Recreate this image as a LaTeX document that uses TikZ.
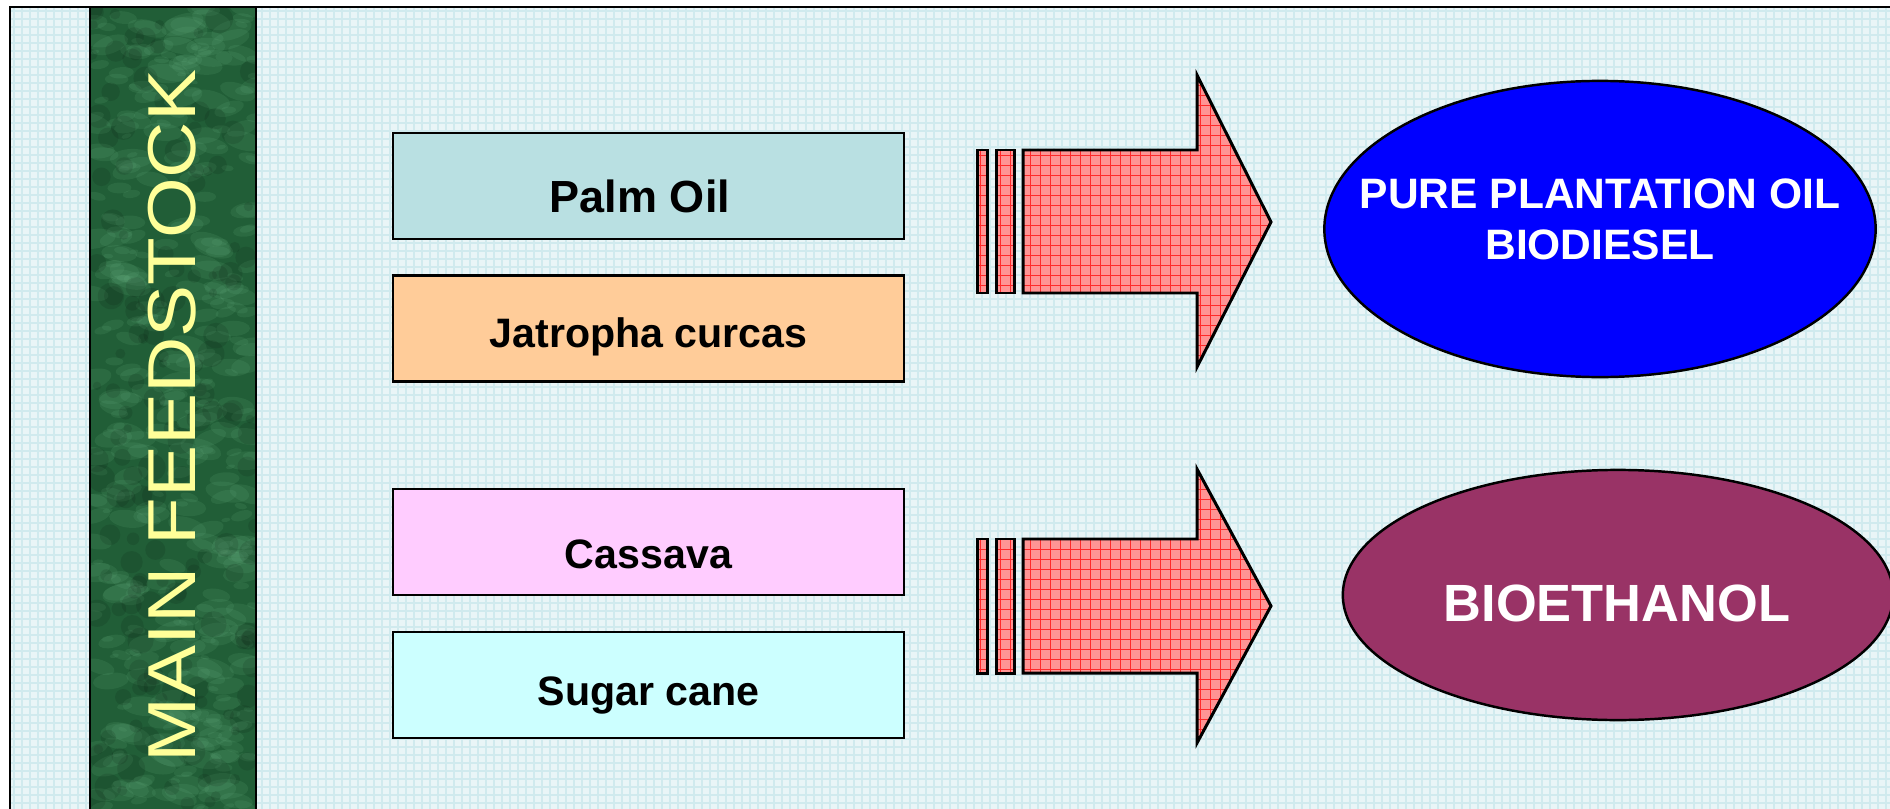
\documentclass[tikz,border=0pt]{standalone}
\usepackage{fontspec}
\setmainfont{Liberation Sans}
\usetikzlibrary{shapes.geometric}
\definecolor{bgcyan}{HTML}{E9F5F7}
\definecolor{gridcyan}{HTML}{D0EAEE}
\definecolor{marble}{HTML}{215E37}
\definecolor{marblelight}{HTML}{6AB383}
\definecolor{palm}{HTML}{B9E0E2}
\definecolor{jatropha}{HTML}{FFCC99}
\definecolor{cassava}{HTML}{FFCCFF}
\definecolor{sugar}{HTML}{CCFFFF}
\definecolor{arrowfill}{HTML}{FF9494}
\definecolor{arrowgrid}{HTML}{FF2A2A}
\definecolor{plum}{HTML}{993366}
\definecolor{paleyellow}{HTML}{FFFF99}
\newcommand{\feedarrow}[5]{%
  \begin{scope}
    \clip (977,#1) rectangle (987,#2) (996,#1) rectangle (1014,#2)
          (1023,#1) -- (1197,#1) -- (1197,#3) -- (1271,#4) -- (1197,#5) -- (1197,#2) -- (1023,#2) -- cycle;
    \fill[arrowfill] (970,#3) rectangle (1280,#5);
    \foreach \gx in {980,990,...,1270} \draw[gridred] (\gx,#3) -- (\gx,#5);
    \foreach \gy in {0,10,...,300} \draw[gridred] (970,{#3+\gy}) -- (1280,{#3+\gy});
  \end{scope}
  \draw[arrowline] (977,#1) rectangle (987,#2);
  \draw[arrowline] (996,#1) rectangle (1014,#2);
  \draw[arrowline] (1023,#1) -- (1197,#1) -- (1197,#3) -- (1271,#4) -- (1197,#5) -- (1197,#2) -- (1023,#2) -- cycle;
}
\begin{document}
\begin{tikzpicture}[x=0.01cm,y=-0.01cm,
  feedbox/.style={draw=black, line width=0.6pt, minimum width=5.11cm, minimum height=1.06cm, inner sep=0pt},
  boxtext/.style={anchor=base, inner sep=0pt, font=\fontsize{11.7pt}{14pt}\selectfont\bfseries},
  gridred/.style={draw=arrowgrid, line width=0.28pt},
  arrowline/.style={draw=black, line width=0.85pt, line join=miter},
  product/.style={ellipse, draw=black, line width=0.7pt, inner sep=0pt},
  prodtext/.style={text=white, inner sep=0pt, align=center}]
\useasboundingbox (0,0) rectangle (1890,809);
\clip (0,0) rectangle (1890,809);
\fill[white] (0,0) rectangle (1890,809);
% background
\fill[bgcyan] (10,7) rectangle (1890,809);
\foreach \gx in {14,22,...,1886} \draw[gridcyan, line width=0.3pt] (\gx,7) -- (\gx,809);
\foreach \gy in {11,19,...,805} \draw[gridcyan, line width=0.3pt] (10,\gy) -- (1890,\gy);
\draw[black, line width=0.85pt] (10,809) -- (10,7) -- (1890,7);
% green marble bar
\begin{scope}
  \clip (90,7) rectangle (256,809);
  \fill[marble] (90,7) rectangle (256,809);
  \pgfmathsetseed{17}
  \foreach \i in {1,...,420} {
    \pgfmathsetmacro\xx{90+166*rnd}
    \pgfmathsetmacro\yy{7+802*rnd}
    \pgfmathsetmacro\rr{2+8*rnd}
    \pgfmathsetmacro\aa{40*rnd-20}
    \fill[marblelight, opacity=0.14, rotate around={\aa:(\xx,\yy)}] (\xx,\yy) ellipse[x radius=2.2*\rr, y radius=\rr];
  }
  \foreach \i in {1,...,160} {
    \pgfmathsetmacro\xx{90+166*rnd}
    \pgfmathsetmacro\yy{7+802*rnd}
    \pgfmathsetmacro\rr{4+10*rnd}
    \fill[black, opacity=0.10] (\xx,\yy) circle[radius=\rr];
  }
\end{scope}
\draw[black, line width=0.85pt] (90,7) rectangle (256,812);
\node[rotate=90, text=paleyellow, inner sep=0pt, font=\fontsize{19.3pt}{22pt}\selectfont] (title) at (172,416) {\scalebox{1.15}[1]{MAIN FEEDSTOCK}};
% feedstock boxes
\node[feedbox, fill=palm] (palm) at (648.5,186) {};
\node[feedbox, fill=jatropha] (jatropha) at (648.5,328.5) {};
\node[feedbox, fill=cassava] (cassava) at (648.5,542) {};
\node[feedbox, fill=sugar] (sugar) at (648.5,685) {};
\node[boxtext, font=\fontsize{12.8pt}{15pt}\selectfont\bfseries] (palmtxt) at (640,212) {Palm Oil};
\node[boxtext] (jatrophatxt) at (648.5,347) {Jatropha curcas};
\node[boxtext] (cassavatxt) at (648.5,568) {Cassava};
\node[boxtext] (sugartxt) at (648.5,705) {Sugar cane};
% block arrows
\feedarrow{150}{293}{75}{222}{367}
\feedarrow{539}{673}{469}{606}{743}
% products
\node[product, fill=blue, minimum width=5.51cm, minimum height=2.96cm] (ppo) at (1600,229) {};
\node[prodtext, font=\fontsize{12.1pt}{14.5pt}\selectfont\bfseries] (ppotxt) at (1600,219) {PURE PLANTATION OIL\\BIODIESEL};
\node[product, fill=plum, minimum width=5.50cm, minimum height=2.50cm] (ethanol) at (1618,595) {};
\node[prodtext, font=\fontsize{14.9pt}{17pt}\selectfont\bfseries] (ethanoltxt) at (1617,603) {BIOETHANOL};
\end{tikzpicture}
\end{document}
